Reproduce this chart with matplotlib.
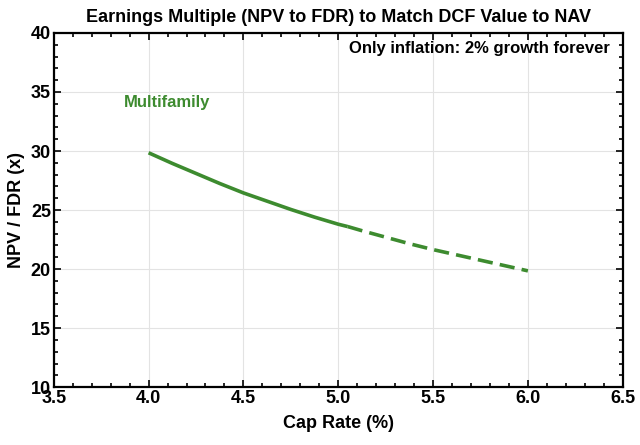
import matplotlib
matplotlib.use('Agg')
import matplotlib.pyplot as plt
from matplotlib.ticker import MultipleLocator

# Values (solid part, then the dashed extension)
cap_solid = [4.0, 4.125, 4.25, 4.375, 4.5, 4.625, 4.75, 4.875, 5.0, 5.05]
mult_solid = [29.85, 28.95, 28.1, 27.25, 26.45, 25.75, 25.05, 24.4, 23.8, 23.6]
cap_dashed = [5.05, 5.125, 5.25, 5.375, 5.5, 5.625, 5.75, 5.875, 6.0]
mult_dashed = [23.6, 23.25, 22.7, 22.15, 21.65, 21.2, 20.75, 20.3, 19.85]

green = '#3d8b2f'
plt.rcParams['font.family'] = ['Liberation Sans Narrow', 'Liberation Sans', 'DejaVu Sans']
plt.rcParams['font.weight'] = 'bold'

fig = plt.figure(figsize=(6.4, 4.45), dpi=100)
ax = fig.add_axes([0.084, 0.130, 0.889, 0.796])

ax.plot(cap_solid, mult_solid, color=green, lw=2.6, solid_capstyle='butt')
ax.plot(cap_dashed, mult_dashed, color=green, lw=2.6, dashes=(4.2, 2.0))

ax.set_xlim(3.5, 6.5)
ax.set_ylim(10, 40)
ax.xaxis.set_major_locator(MultipleLocator(0.5))
ax.xaxis.set_minor_locator(MultipleLocator(0.1))
ax.yaxis.set_major_locator(MultipleLocator(5))
ax.yaxis.set_minor_locator(MultipleLocator(1))
ax.set_xticklabels([f'{v:.1f}' for v in ax.get_xticks()])
ax.grid(True, which='major', color='#e3e3e3', lw=0.8)

ax.tick_params(which='both', direction='in', top=True, right=True, labelsize=13, width=1.2)
ax.tick_params(which='major', length=5, pad=2)
ax.tick_params(which='minor', length=3)
for s in ax.spines.values():
    s.set_linewidth(1.6)

ax.set_xlabel('Cap Rate (%)', fontsize=13, fontweight='bold', labelpad=6)
ax.set_ylabel('NPV / FDR (x)', fontsize=13, fontweight='bold', labelpad=4)
ax.set_title('Earnings Multiple (NPV to FDR) to Match DCF Value to NAV', fontsize=13, fontweight='bold', pad=8)

ax.text(4.1, 34.1, 'Multifamily', color=green, fontsize=12, fontweight='bold', ha='center', va='center')
ax.text(6.43, 38.7, 'Only inflation: 2% growth forever', fontsize=12, fontweight='bold', ha='right', va='center')

fig.savefig('out.png', dpi=100)
